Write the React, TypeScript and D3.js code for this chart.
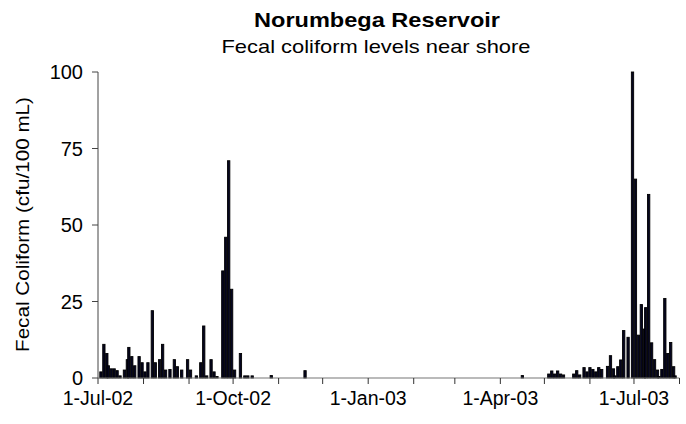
import React from "react";
import * as d3 from "d3";

const sampleDates: string[] = [
  "2002-07-03","2002-07-05","2002-07-07","2002-07-08","2002-07-10","2002-07-12","2002-07-14","2002-07-16",
  "2002-07-19","2002-07-21","2002-07-22","2002-07-24","2002-07-26","2002-07-29","2002-07-31","2002-08-02",
  "2002-08-04","2002-08-07","2002-08-09","2002-08-12","2002-08-14","2002-08-16","2002-08-19","2002-08-22",
  "2002-08-24","2002-08-27","2002-08-31","2002-09-02","2002-09-06","2002-09-09","2002-09-11","2002-09-13",
  "2002-09-16","2002-09-18","2002-09-20","2002-09-24","2002-09-26","2002-09-28","2002-09-30","2002-10-02",
  "2002-10-06","2002-10-09","2002-10-11","2002-10-14","2002-10-27","2002-11-19",
  "2003-04-16","2003-05-04","2003-05-06","2003-05-08","2003-05-10","2003-05-12","2003-05-14","2003-05-21",
  "2003-05-23","2003-05-25","2003-05-28","2003-05-30","2003-06-01","2003-06-03","2003-06-05","2003-06-07",
  "2003-06-09","2003-06-13","2003-06-15","2003-06-17","2003-06-18","2003-06-20","2003-06-22","2003-06-24",
  "2003-06-27","2003-06-30","2003-07-02","2003-07-04","2003-07-06","2003-07-08","2003-07-09","2003-07-11",
  "2003-07-13","2003-07-15","2003-07-17","2003-07-18","2003-07-20","2003-07-22","2003-07-24","2003-07-26",
  "2003-07-28","2003-07-29",
];

const fecalColiform: number[] = [
  2, 11, 8, 4, 3, 3, 2.4, 0.7,
  2.6, 6, 10, 7, 4, 7, 5, 2,
  5, 22, 5, 6, 11, 2.6, 2.8, 6,
  3.7, 2.6, 6, 2.6, 0.7, 5, 17, 0.7,
  6, 2, 0.5, 35, 46, 71, 29, 2.6,
  8, 0.7, 0.7, 0.7, 0.8, 2.4,
  0.8, 1.3, 2.3, 1.3, 2.3, 1.3, 1, 1.3,
  2.4, 1, 3.4, 2, 3.4, 2.8, 2, 3.4,
  2.8, 3.8, 7.3, 3, 0.7, 3.7, 5.9, 15.5,
  13.3, 100, 65, 14, 24, 16, 23, 60,
  11.5, 6, 2.6, 0.5, 2.8, 26, 8, 11.6,
  3.7, 0.7,
];

const xDomain: string[] = ["2002-07-01", "2003-08-01"];
const xLabelDates: string[] = ["2002-07-01", "2002-10-01", "2003-01-01", "2003-04-01", "2003-07-01"];
const yTicks: number[] = [0, 25, 50, 75, 100];

const title = "Norumbega Reservoir";
const subtitle = "Fecal coliform levels near shore";
const yTitle = "Fecal Coliform (cfu/100 mL)";

export default function App() {
  const W = 686, H = 424;
  const left = 98, right = 679.5, top = 72, bottom = 378;
  const parse = d3.timeParse("%Y-%m-%d");
  const fmt = d3.timeFormat("%-d-%b-%y");
  const x = d3.scaleTime()
    .domain([parse(xDomain[0])!, parse(xDomain[1])!])
    .range([left, right]);
  const y = d3.scaleLinear().domain([0, 100]).range([bottom, top]);
  const data = sampleDates.map((d, i) => ({ date: parse(d)!, v: fecalColiform[i] }));
  const monthTicks = d3.timeMonth.range(parse(xDomain[0])!, d3.timeDay.offset(parse(xDomain[1])!, 1));
  const barW = 2.3;
  const font = "'Liberation Sans', Arial, sans-serif";

  return (
    <svg width={W} height={H} style={{ position: "absolute", left: 0, top: 0, background: "#fff" }}>
      <text x={377} y={27} textAnchor="middle" fontFamily={font} fontWeight="bold" fontSize={21}
        textLength={246} lengthAdjust="spacingAndGlyphs">{title}</text>
      <text x={376} y={53} textAnchor="middle" fontFamily={font} fontSize={19}
        textLength={309} lengthAdjust="spacingAndGlyphs">{subtitle}</text>
      <text transform={`translate(29,224.5) rotate(-90)`} textAnchor="middle" fontFamily={font} fontSize={19}
        textLength={255} lengthAdjust="spacingAndGlyphs">{yTitle}</text>

      {data.map((d, i) => (
        <rect key={i} x={x(d.date) - barW / 2} y={y(d.v)} width={barW}
          height={Math.max(0, bottom - y(d.v))} fill="#05051f" stroke="#000" strokeWidth={0.9} />
      ))}

      {/* y axis */}
      <line x1={left} x2={left} y1={top} y2={bottom} stroke="#444" strokeWidth={1} />
      {yTicks.map((t) => (
        <g key={t}>
          <line x1={left - 6} x2={left} y1={y(t)} y2={y(t)} stroke="#444" strokeWidth={1} />
          <text x={83} y={y(t) + 7} textAnchor="end" fontFamily={font} fontSize={20}>{t}</text>
        </g>
      ))}

      {/* x axis */}
      <line x1={left} x2={right} y1={bottom} y2={bottom} stroke="#777" strokeWidth={1.2} />
      {monthTicks.map((m, i) => (
        <line key={i} x1={x(m)} x2={x(m)} y1={bottom} y2={bottom + 6} stroke="#333" strokeWidth={1} />
      ))}
      {xLabelDates.map((d) => {
        const dt = parse(d)!;
        return (
          <text key={d} x={x(dt)} y={405} textAnchor="middle" fontFamily={font} fontSize={19.5}>{fmt(dt)}</text>
        );
      })}
    </svg>
  );
}
